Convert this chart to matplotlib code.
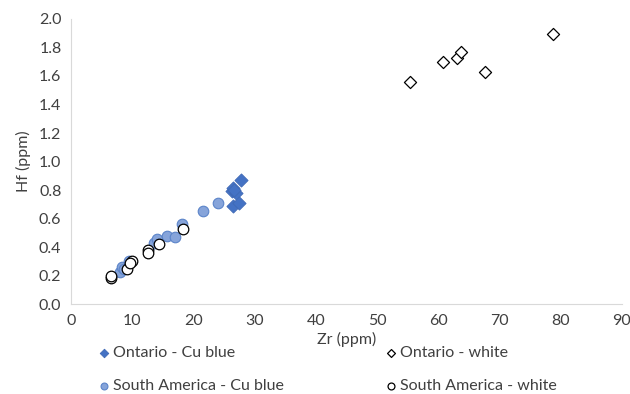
import matplotlib
matplotlib.use("Agg")
import matplotlib.pyplot as plt

plt.rcParams['font.family'] = ['Lato', 'DejaVu Sans']

ont_blue_zr = [26.3, 26.4, 27.0, 27.7, 26.4, 27.5, 26.6]
ont_blue_hf = [0.79, 0.816, 0.78, 0.87, 0.69, 0.71, 0.80]

ont_white_zr = [55.3, 60.8, 63.0, 63.7, 67.6, 78.8]
ont_white_hf = [1.556, 1.696, 1.724, 1.77, 1.626, 1.893]

sa_blue_zr = [8.0, 8.3, 9.4, 13.5, 14.0, 15.6, 16.9, 18.1, 21.5, 24.0, 8.6]
sa_blue_hf = [0.227, 0.26, 0.30, 0.43, 0.454, 0.48, 0.47, 0.56, 0.655, 0.707, 0.25]

sa_white_zr = [6.5, 9.1, 9.9, 12.6, 12.6, 14.3, 18.3, 6.5, 9.6]
sa_white_hf = [0.18, 0.246, 0.30, 0.38, 0.356, 0.42, 0.524, 0.195, 0.29]

fig = plt.figure(figsize=(6.3, 3.94), dpi=100)
ax = fig.add_axes([0.113, 0.228, 0.874, 0.724])

ax.scatter(sa_blue_zr, sa_blue_hf, s=58, marker='o', facecolor='#86a4da', edgecolor='#5b84c9', linewidth=0.8, zorder=3, label='South America - Cu blue')
ax.scatter(sa_white_zr, sa_white_hf, s=58, marker='o', facecolor='white', edgecolor='black', linewidth=0.9, zorder=4, label='South America - white')
ax.scatter(ont_blue_zr, ont_blue_hf, s=45, marker='D', facecolor='#4472c4', edgecolor='#3f69b5', linewidth=0.6, zorder=5, label='Ontario - Cu blue')
ax.scatter(ont_white_zr, ont_white_hf, s=38, marker='D', facecolor='white', edgecolor='black', linewidth=0.9, zorder=5, label='Ontario - white')

ax.set_xlim(0, 90)
ax.set_ylim(0, 2.0)
ax.set_xticks(range(0, 91, 10))
ax.set_yticks([i * 0.2 for i in range(11)])
ax.set_yticklabels([f"{i*0.2:.1f}" for i in range(11)])
for s in ['top', 'right']:
    ax.spines[s].set_visible(False)
for s in ['left', 'bottom']:
    ax.spines[s].set_color('#d9d9d9')
ax.tick_params(length=0, labelsize=11.5, colors='#404040', pad=7)
ax.set_xlabel('Zr (ppm)', fontsize=11.5, color='#404040', labelpad=3)
ax.set_ylabel('Hf (ppm)', fontsize=11.5, color='#404040', labelpad=6)

h, l = ax.get_legend_handles_labels()
handles = [h[2], h[0], h[3], h[1]]
labels = [l[2], l[0], l[3], l[1]]
leg = fig.legend(handles, labels, ncol=2, loc='lower left', bbox_to_anchor=(0.13, -0.035),
                 frameon=False, fontsize=11.5, handletextpad=0.05, columnspacing=6.2,
                 labelspacing=1.2, markerscale=0.65, handlelength=1.0)
for t in leg.get_texts():
    t.set_color('#404040')

fig.savefig('out.png', dpi=100)
